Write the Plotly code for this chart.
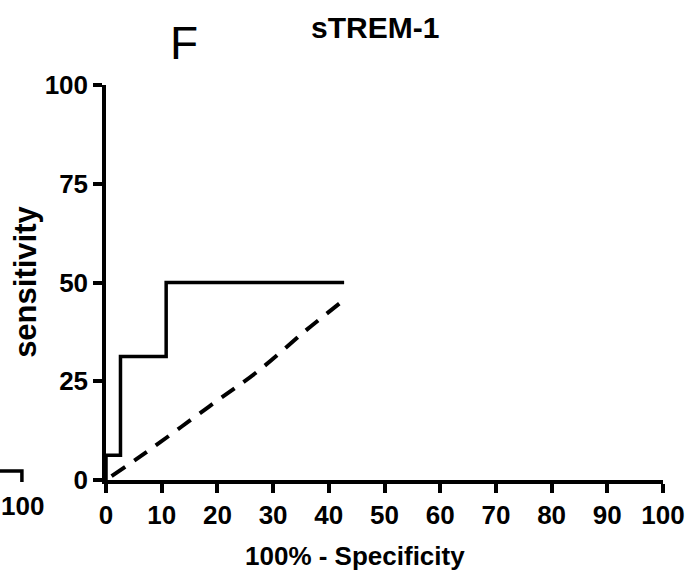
import plotly.graph_objects as go

# ROC curve (sTREM-1)
roc_x = [0, 0, 2.6, 2.6, 10.8, 10.8, 42.75]
roc_y = [0, 6.25, 6.25, 31.25, 31.25, 50, 50]

# dashed reference curve
ref_x = [1, 7, 18.5, 27.5, 36, 42.75]
ref_y = [1, 6.8, 18.6, 27.8, 38, 45.6]

x_ticks = [0, 10, 20, 30, 40, 50, 60, 70, 80, 90, 100]
y_ticks = [0, 25, 50, 75, 100]

W, H = 697, 571
L, R, T, B = 106, 28, 85, 91
PW, PH = W - L - R, H - T - B

def px(X):
    return (X - L) / PW

def py(Y):
    return 1 - (Y - T) / PH

FONT = "Liberation Sans, Arial, sans-serif"

fig = go.Figure()
fig.add_trace(go.Scatter(x=roc_x, y=roc_y, mode="lines",
                         line=dict(color="black", width=3.5, shape="linear"),
                         showlegend=False, hoverinfo="skip"))
fig.add_trace(go.Scatter(x=ref_x, y=ref_y, mode="lines",
                         line=dict(color="black", width=4, dash="16px,11px", shape="spline"),
                         showlegend=False, hoverinfo="skip"))

axis_common = dict(
    showgrid=False, zeroline=False, showline=True, linecolor="black", linewidth=3.5,
    ticks="outside", ticklen=9, tickwidth=3.5, tickcolor="black",
    tickfont=dict(family=FONT, size=26, color="black", weight="bold"),
    fixedrange=True,
)

fig.update_xaxes(range=[0, 100], tickvals=x_ticks, ticktext=[str(v) for v in x_ticks],
                 **axis_common)
fig.update_yaxes(range=[0, 100], tickvals=y_ticks, ticktext=[str(v) for v in y_ticks],
                 **axis_common)

annotations = [
    dict(text="sTREM-1", x=px(378), y=py(27), xanchor="center", yanchor="middle",
         font=dict(family=FONT, size=30, color="black", weight="bold")),
    dict(text="F", x=px(185), y=py(43), xanchor="center", yanchor="middle",
         font=dict(family=FONT, size=46, color="black")),
    dict(text="100% - Specificity", x=px(358), y=py(556), xanchor="center", yanchor="middle",
         font=dict(family=FONT, size=26, color="black", weight="bold")),
    dict(text="sensitivity", x=px(24), y=py(282), xanchor="center", yanchor="middle",
         textangle=-90,
         font=dict(family=FONT, size=31, color="black", weight="bold")),
    dict(text="100", x=px(45), y=py(506), xanchor="right", yanchor="middle",
         font=dict(family=FONT, size=26, color="black", weight="bold")),
]
for a in annotations:
    a.update(xref="paper", yref="paper", showarrow=False)

shapes = [
    dict(type="path", xref="paper", yref="paper",
         path=f"M {px(-2)} {py(471)} L {px(21)} {py(471)} L {px(21)} {py(482)}",
         line=dict(color="black", width=3.5)),
]

fig.update_layout(
    width=W, height=H,
    margin=dict(l=L, r=R, t=T, b=B),
    paper_bgcolor="white", plot_bgcolor="white",
    annotations=annotations, shapes=shapes,
    showlegend=False,
)

fig.write_html("out.html")
